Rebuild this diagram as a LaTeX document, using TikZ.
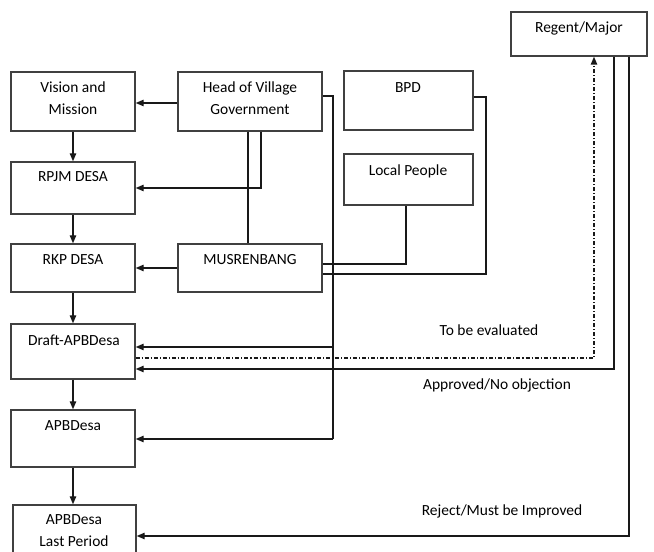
\documentclass[tikz,border=0pt]{standalone}
\usepackage{fontspec}
\setmainfont{Carlito}
\usetikzlibrary{arrows.meta,fit}
\begin{document}
\begin{tikzpicture}[x=0.75pt,y=-0.75pt,
  box/.style={draw=black!75,line width=1pt,inner sep=0pt,fit={#1}},
  txt/.style={inner sep=0pt,align=center,text=black,font=\fontsize{11.6}{16.5}\selectfont},
  wire/.style={draw=black!90,line width=1pt},
  arr/.style={wire,-{Triangle[length=6pt,width=4.8pt]}},
  dashdotline/.style={dash pattern=on 3pt off 1.5pt on 0.8pt off 1.5pt}]
\useasboundingbox (0,0) rectangle (654,552);
\clip (0,0) rectangle (654,552);

% boxes
\node[box={(11,72) (135,131)}]  (vm)    {};
\node[box={(178,72) (322,131)}] (head)  {};
\node[box={(11,162) (135,214)}] (rpjm)  {};
\node[box={(11,244) (135,292)}] (rkp)   {};
\node[box={(178,244) (322,292)}](mus)   {};
\node[box={(344,71) (473,130)}] (bpd)   {};
\node[box={(344,154) (473,205)}](lp)    {};
\node[box={(511,12) (647,56)}]  (reg)   {};
\node[box={(11,324) (135,379)}] (draft) {};
\node[box={(11,410) (135,467)}] (apb)   {};
\node[box={(13,505) (136,580)}] (last)  {};

% box captions
\node[txt] (vmt)    at (73,98)   {Vision and\\Mission};
\node[txt] (headt)  at (250,98)  {Head of Village\\Government};
\node[txt] (rpjmt)  at (73,177)  {RPJM DESA};
\node[txt] (rkpt)   at (73,260)  {RKP DESA};
\node[txt] (must)   at (250,260) {MUSRENBANG};
\node[txt] (bpdt)   at (408,88)  {BPD};
\node[txt] (lpt)    at (408,171) {Local People};
\node[txt] (regt)   at (579,28)  {Regent/Major};
\node[txt] (draftt) at (74,340)  {Draft-APBDesa};
\node[txt] (apbt)   at (73,426)  {APBDesa};
\node[txt] (lastt)  at (74,531)  {APBDesa\\Last Period};

% edge labels
\node[txt] (evalt) at (489,330) {To be evaluated};
\node[txt] (appt)  at (497,385) {Approved/No objection};
\node[txt] (rejt)  at (502,511) {Reject/Must be Improved};

% routing points
\coordinate (xa) at (248,0);
\coordinate (xb) at (261,0);
\coordinate (hv) at (0,103);
\coordinate (hr) at (333,96);
\coordinate (hd) at (333,347);
\coordinate (ha) at (333,439);
\coordinate (lpc) at (406,264);
\coordinate (b1) at (486,97);
\coordinate (b2) at (486,274);
\coordinate (r1) at (594,358);
\coordinate (r2) at (614,369);
\coordinate (r3) at (629,536);
\coordinate (xv) at (73,0);

% main chain
\draw[arr] (head.west |- hv) -- (vm.east |- hv);
\draw[arr] (vm.south -| xv) -- (rpjm.north -| xv);
\draw[arr] (rpjm.south -| xv) -- (rkp.north -| xv);
\draw[arr] (rkp.south -| xv) -- (draft.north -| xv);
\draw[arr] (draft.south -| xv) -- (apb.north -| xv);
\draw[arr] (apb.south -| xv) -- (last.north -| xv);
\draw[arr] (mus.west) -- (rkp.east);

% head of village
\draw[wire] (head.south -| xa) -- (mus.north -| xa);
\draw[arr] (head.south -| xb) |- (rpjm.east);
\draw[wire] (head.east |- hr) -- (hr) -- (ha);
\draw[arr] (hd) -- (draft.east |- hd);
\draw[arr] (ha) -- (apb.east |- ha);

% local people and BPD into musrenbang
\draw[wire] (mus.east |- lpc) -- (lpc) -- (lp.south -| lpc);
\draw[wire] (bpd.east |- b1) -- (b1) -- (b2) -- (mus.east |- b2);

% regent loop
\draw[arr,dashdotline] (draft.east |- r1) -- (r1) -- (reg.south -| r1);
\draw[arr] (reg.south -| r2) -- (r2) -- (draft.east |- r2);
\draw[arr] (reg.south -| r3) -- (r3) -- (last.east |- r3);
\end{tikzpicture}
\end{document}
